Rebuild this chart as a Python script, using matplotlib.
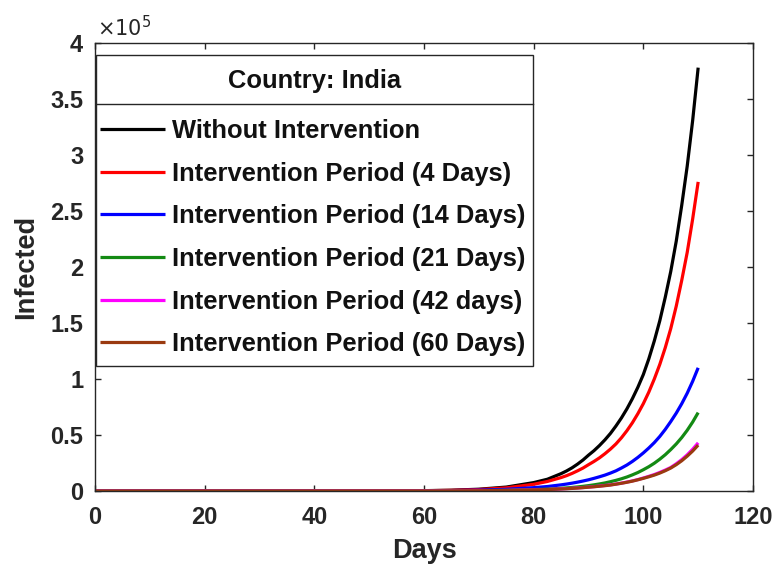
import numpy as np
import matplotlib
matplotlib.use("Agg")
import matplotlib.pyplot as plt
from matplotlib.patches import Rectangle
from matplotlib.lines import Line2D
from matplotlib.ticker import FuncFormatter

# ---------------- data (infected, in units of 1e5) ----------------
days = [0, 10, 20, 30, 40, 50, 60, 65, 70, 75, 80, 82.5,
        85, 86, 87, 88, 89, 90, 91, 92, 93, 94, 95, 96, 97, 98, 99,
        100, 101, 102, 103, 104, 105, 106, 107, 108, 109, 110]

without_intervention = [0.0001, 0.0001, 0.0002, 0.0003, 0.0005, 0.0009, 0.003, 0.007, 0.016, 0.035, 0.075, 0.105,
                        0.155, 0.179, 0.207, 0.240, 0.277, 0.320, 0.360, 0.406, 0.457, 0.514,
                        0.580, 0.652, 0.733, 0.824, 0.926, 1.04, 1.18, 1.34, 1.52, 1.73,
                        1.96, 2.23, 2.55, 2.90, 3.31, 3.78]
period_4 = [0.0001, 0.0001, 0.0002, 0.0003, 0.0005, 0.0008, 0.0025, 0.006, 0.013, 0.028, 0.06, 0.085,
            0.120, 0.137, 0.157, 0.180, 0.205, 0.235, 0.264, 0.296, 0.333, 0.374,
            0.420, 0.475, 0.538, 0.609, 0.690, 0.780, 0.883, 1.00, 1.13, 1.28,
            1.45, 1.65, 1.88, 2.13, 2.43, 2.76]
period_14 = [0.0001, 0.0001, 0.0002, 0.0003, 0.0004, 0.0007, 0.0018, 0.0037, 0.0075, 0.015, 0.03, 0.04,
             0.055, 0.062, 0.070, 0.079, 0.089, 0.100, 0.113, 0.127, 0.142, 0.160,
             0.180, 0.205, 0.232, 0.264, 0.300, 0.340, 0.384, 0.432, 0.487, 0.550,
             0.620, 0.695, 0.779, 0.873, 0.980, 1.10]
period_21 = [0.0001, 0.0001, 0.0002, 0.0003, 0.0004, 0.0006, 0.0008, 0.0015, 0.003, 0.006, 0.012, 0.017,
             0.024, 0.0276, 0.0317, 0.0364, 0.0418, 0.048, 0.055, 0.063, 0.072, 0.083,
             0.095, 0.109, 0.125, 0.144, 0.165, 0.190, 0.217, 0.248, 0.284, 0.324,
             0.370, 0.420, 0.477, 0.542, 0.616, 0.700]
period_42 = [0.0001, 0.0001, 0.0002, 0.0003, 0.0004, 0.0005, 0.0006, 0.0012, 0.0025, 0.005, 0.0105, 0.0135,
             0.019, 0.0215, 0.0243, 0.0274, 0.031, 0.035, 0.0392, 0.044, 0.0493, 0.0553,
             0.062, 0.0702, 0.0796, 0.090, 0.102, 0.116, 0.131, 0.147, 0.166, 0.187,
             0.210, 0.243, 0.280, 0.323, 0.373, 0.430]
period_60 = [0.0001, 0.0001, 0.0002, 0.0003, 0.0004, 0.0005, 0.0006, 0.0012, 0.0025, 0.005, 0.01, 0.013,
             0.018, 0.0204, 0.0231, 0.0263, 0.0299, 0.034, 0.038, 0.0425, 0.0476, 0.0532,
             0.061, 0.069, 0.078, 0.088, 0.100, 0.113, 0.127, 0.142, 0.160, 0.181,
             0.205, 0.235, 0.270, 0.311, 0.357, 0.410]

labels = ["Without Intervention",
          "Intervention Period (4 Days)",
          "Intervention Period (14 Days)",
          "Intervention Period (21 Days)",
          "Intervention Period (42 days)",
          "Intervention Period (60 Days)"]
series = [without_intervention, period_4, period_14, period_21, period_42, period_60]
colors = ["#000000", "#ff0000", "#0000ff", "#138a13", "#ff00ff", "#9a3a10"]

x_ticks = [0, 20, 40, 60, 80, 100, 120]
y_ticks = [0, 0.5e5, 1e5, 1.5e5, 2e5, 2.5e5, 3e5, 3.5e5, 4e5]
SCALE = 1e5

# ---------------- figure ----------------
fig = plt.figure(figsize=(7.76, 5.69), dpi=100)
ax = fig.add_axes([95 / 776, 1 - 491 / 569, (753 - 95) / 776, (491 - 43) / 569])

lines = []
for vals, col, lab in zip(series, colors, labels):
    ln, = ax.plot(days, np.array(vals) * SCALE, color=col, lw=2.3, label=lab,
                  solid_capstyle="butt", solid_joinstyle="round")
    lines.append(ln)

ax.set_xlim(0, 120)
ax.set_ylim(0, 4e5)
ax.set_xticks(x_ticks)
ax.set_yticks(y_ticks)
ax.yaxis.set_major_formatter(FuncFormatter(lambda v, p: f"{v / SCALE:g}"))

gray = "#262626"
for s in ax.spines.values():
    s.set_color(gray)
    s.set_linewidth(1.0)
ax.tick_params(direction="in", length=4.5, width=1.0, color=gray,
               top=True, right=True, labelsize=17, labelcolor=gray)
ax.tick_params(axis="x", pad=11)
ax.tick_params(axis="y", pad=8.5)
for t in ax.get_xticklabels() + ax.get_yticklabels():
    t.set_fontfamily("Liberation Sans")
    t.set_fontweight("bold")

ax.set_xlabel("Days", fontsize=19.5, fontweight="bold", color=gray,
              fontfamily="Liberation Sans", labelpad=6)
ax.set_ylabel("Infected", fontsize=19.5, fontweight="bold", color=gray,
              fontfamily="Liberation Sans", labelpad=8)

ax.text(0.003, 1.006, r"$\times10^{5}$", transform=ax.transAxes, fontsize=15,
        color=gray, ha="left", va="bottom")

# ---------------- legend with title box ----------------
bx0, bx1 = (96 - 95) / 658, (533 - 95) / 658
by0, by1 = (491 - 366) / 448, (491 - 55) / 448
sep = (491 - 104) / 448
ax.add_patch(Rectangle((bx0, by0), bx1 - bx0, by1 - by0, transform=ax.transAxes,
                       facecolor="white", edgecolor=gray, lw=1.0, zorder=5))
ax.add_line(Line2D([bx0, bx1], [sep, sep], transform=ax.transAxes, color=gray,
                   lw=1.0, zorder=6))
ax.text((bx0 + bx1) / 2, (491 - 81) / 448, "Country: India", transform=ax.transAxes,
        ha="center", va="center", fontsize=18.4, fontweight="bold",
        fontfamily="Liberation Sans", color="#111111", zorder=7)

leg = ax.legend(handles=lines, loc="upper left",
                bbox_to_anchor=((100 - 95) / 658, (491 - 119) / 448),
                frameon=False, borderpad=0, borderaxespad=0,
                handlelength=2.55, handletextpad=0.27, labelspacing=0.73,
                prop={"family": "Liberation Sans", "weight": "bold", "size": 18.4})
leg.set_zorder(8)
for t in leg.get_texts():
    t.set_color("#111111")

fig.savefig("out.png", dpi=100)
